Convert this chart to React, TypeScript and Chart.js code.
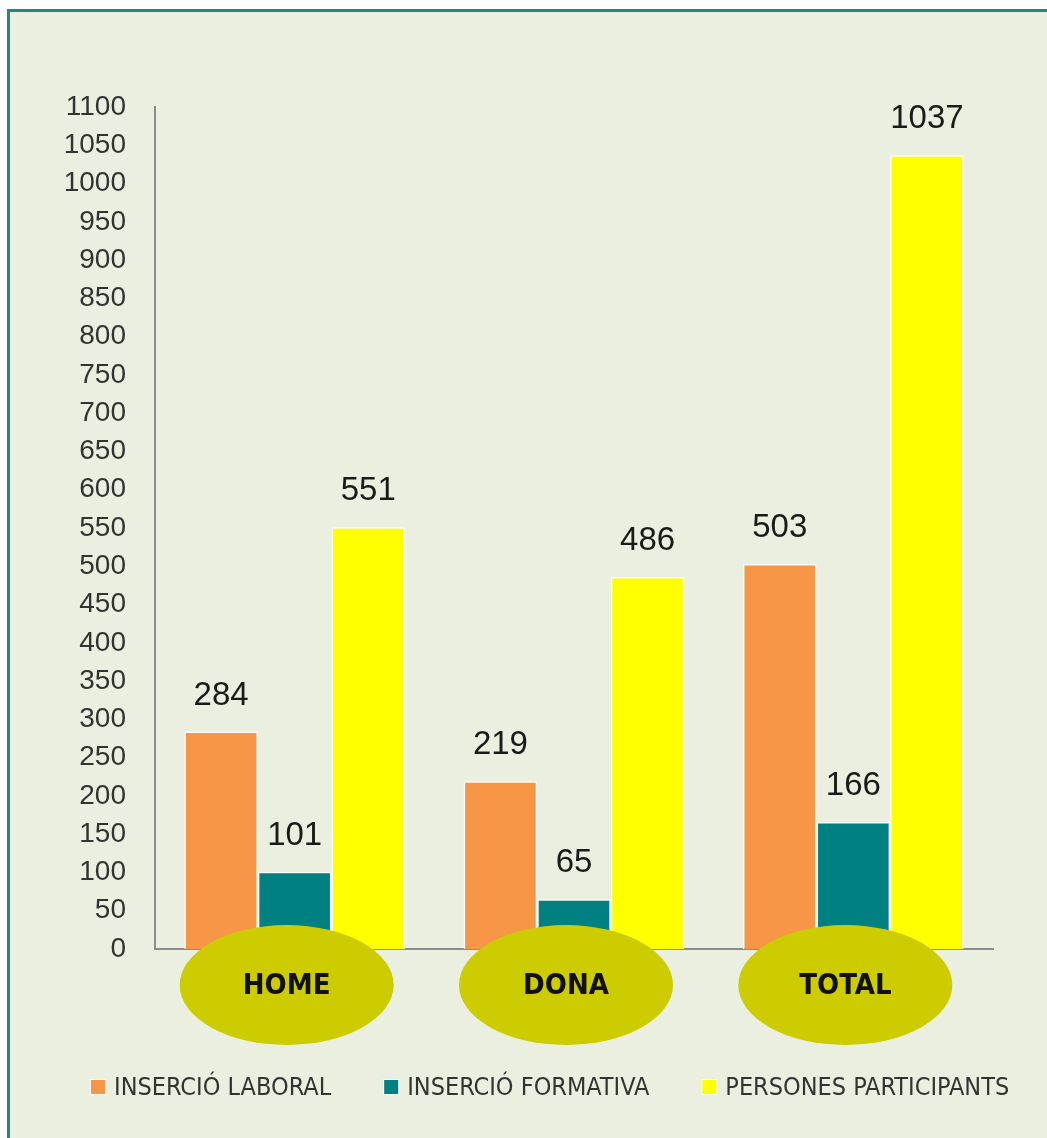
import React, { useEffect, useRef } from "react";
import { Chart, registerables } from "chart.js";

Chart.register(...registerables);

const categories = ["HOME", "DONA", "TOTAL"];
const seriesNames = ["INSERCIÓ LABORAL", "INSERCIÓ FORMATIVA", "PERSONES PARTICIPANTS"];
const insercioLaboral = [284, 219, 503];
const insercioFormativa = [101, 65, 166];
const personesParticipants = [551, 486, 1037];
const seriesColors = ["#F79646", "#008080", "#FFFF00"];
const yMin = 0;
const yMax = 1100;
const yStep = 50;

const W = 1047;
const H = 1138;
const BG = "#EBEFDF";
const FRAME = "#23877F";
const NUM_FONT = '"Liberation Sans", "Open Sans", sans-serif';
const NARROW_FONT = '"Liberation Sans Narrow", "DejaVu Sans Condensed", "Liberation Sans", sans-serif';

const decorPlugin = {
  id: "decor",
  beforeDraw(chart: any) {
    const ctx = chart.ctx;
    ctx.save();
    ctx.fillStyle = "#FFFFFF";
    ctx.fillRect(0, 0, W, H);
    ctx.fillStyle = BG;
    ctx.fillRect(7, 9, W - 7, H - 9);
    ctx.strokeStyle = FRAME;
    ctx.lineWidth = 3;
    ctx.beginPath();
    ctx.moveTo(7, 10.5);
    ctx.lineTo(W, 10.5);
    ctx.moveTo(8.5, 9);
    ctx.lineTo(8.5, H);
    ctx.stroke();
    ctx.restore();
  },
  afterDatasetsDraw(chart: any) {
    const ctx = chart.ctx;
    const xScale = chart.scales.x;
    const area = chart.chartArea;
    ctx.save();
    // value labels
    ctx.fillStyle = "#1A1A1A";
    ctx.font = `33px ${NUM_FONT}`;
    ctx.textAlign = "center";
    ctx.textBaseline = "middle";
    chart.data.datasets.forEach((ds: any, di: number) => {
      const meta = chart.getDatasetMeta(di);
      meta.data.forEach((el: any, i: number) => {
        ctx.fillText(String(ds.data[i]), el.x, el.y - 36);
      });
    });
    // category ellipses
    categories.forEach((c, i) => {
      const cx = xScale.getPixelForValue(i) - 8;
      const cy = area.bottom + 36;
      ctx.fillStyle = "#CCCC00";
      ctx.beginPath();
      ctx.ellipse(cx, cy, 107, 60, 0, 0, Math.PI * 2);
      ctx.fill();
      ctx.fillStyle = "#111111";
      ctx.font = `bold 29px ${NARROW_FONT}`;
      ctx.fillText(c, cx, cy + 1);
    });
    // legend
    ctx.font = `25px ${NARROW_FONT}`;
    ctx.textAlign = "left";
    let x = 91;
    const ly = 1087;
    seriesNames.forEach((name, i) => {
      ctx.fillStyle = "rgba(255,255,255,0.7)";
      ctx.fillRect(x - 1, ly - 8, 16, 16);
      ctx.fillStyle = seriesColors[i];
      ctx.fillRect(x, ly - 7, 14, 14);
      ctx.fillStyle = "#333333";
      ctx.fillText(name, x + 23, ly + 1);
      x += 23 + ctx.measureText(name).width + 53;
    });
    ctx.restore();
  },
};

export default function App() {
  const ref = useRef<HTMLCanvasElement | null>(null);
  useEffect(() => {
    document.body.style.margin = "0";
    const canvas = ref.current!;
    const chart = new Chart(canvas, {
      type: "bar",
      data: {
        labels: categories,
        datasets: [
          { label: seriesNames[0], data: insercioLaboral, backgroundColor: seriesColors[0] },
          { label: seriesNames[1], data: insercioFormativa, backgroundColor: seriesColors[1] },
          { label: seriesNames[2], data: personesParticipants, backgroundColor: seriesColors[2] },
        ].map((d) => ({
          ...d,
          borderColor: "rgba(255,255,255,0.85)",
          borderWidth: 1.5,
          categoryPercentage: 0.79,
          barPercentage: 1,
        })),
      },
      options: {
        responsive: false,
        animation: false,
        devicePixelRatio: 1,
        layout: { padding: { top: 107, right: 54, left: 0, bottom: 0 } },
        plugins: { legend: { display: false }, tooltip: { enabled: false } },
        scales: {
          x: {
            grid: { display: false, drawTicks: false },
            border: { color: "#8C8C8C", width: 2 },
            ticks: { display: false },
            afterFit(scale: any) {
              scale.height = 189;
            },
          },
          y: {
            min: yMin,
            max: yMax,
            grid: { display: false, drawTicks: false },
            border: { color: "#8C8C8C", width: 2 },
            ticks: {
              stepSize: yStep,
              padding: 29,
              color: "#333333",
              font: { size: 28, family: NUM_FONT },
              callback: (v: any) => String(v),
            },
            afterFit(scale: any) {
              scale.width = 155;
            },
          },
        },
      },
      plugins: [decorPlugin],
    });
    return () => chart.destroy();
  }, []);
  return <canvas ref={ref} width={W} height={H} style={{ display: "block" }} />;
}
